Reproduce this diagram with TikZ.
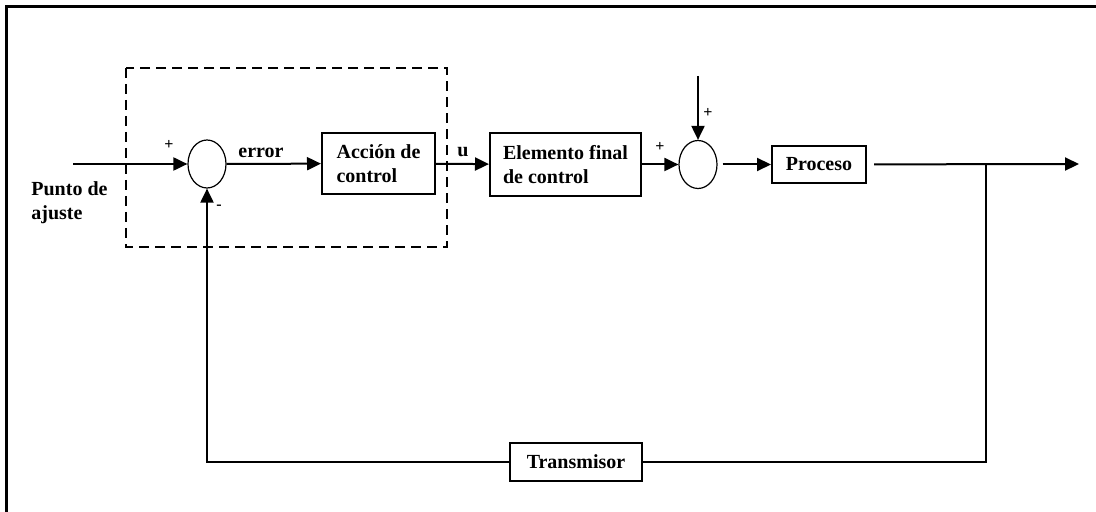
\documentclass[tikz,border=0pt]{standalone}
\usepackage{fontspec}
\setmainfont{Liberation Serif}
\usetikzlibrary{arrows.meta,shapes.geometric,positioning}
\tikzset{
    % Rectangular block of the loop
    blockbox/.style={
        draw, line width=1pt, align=left,
        font=\bfseries, inner sep=2pt
    },
    % Summing junction
    sumnode/.style={
        ellipse, draw, line width=0.6pt,
        minimum width=19pt, minimum height=24pt, inner sep=0pt
    },
    % Signal line with arrow
    flow/.style={line width=1pt, -{Triangle[length=7pt,width=6.5pt]}},
    signal/.style={line width=1pt},
    % Small signs and labels
    signlabel/.style={font=\footnotesize\bfseries, inner sep=0pt},
    siglabel/.style={font=\bfseries, inner sep=0pt},
}
\begin{document}
\begin{tikzpicture}[x=0.5pt,y=-0.5pt]
      \useasboundingbox (0,0) rectangle (1096,512);
      \draw[line width=1.5pt] (1096,6.5) -- (6.5,6.5) -- (6.5,512);
      % controller (dashed)
      \draw[line width=0.8pt,dash pattern=on 5pt off 3pt] (126,68) rectangle (447,247);
      \node[sumnode] (sumA) at (207,164) {};
      \node[blockbox,minimum width=56.5pt,minimum height=30.5pt] (ctrl) at (378.5,163.5) {Acción de\\control};
      \node[blockbox,minimum width=75.5pt,minimum height=31.5pt] (efc) at (565.5,164.5) {Elemento final\\de control};
      \node[sumnode] (sumB) at (698,164.5) {};
      \node[blockbox,minimum width=47pt,minimum height=18.5pt] (proc) at (819,164.5) {Proceso};
      \node[blockbox,minimum width=66pt,minimum height=19pt] (trans) at (576,462) {Transmisor};
      \coordinate (inp) at (73,164);
      \coordinate (dist) at (698,76);
      \coordinate (out) at (1079,164);
      \coordinate (branch) at (986,164);
      % forward path
      \draw[flow] (inp) -- (sumA);
      \draw[flow] (sumA) -- (ctrl);
      \draw[flow] (ctrl) -- (efc);
      \draw[flow] (efc) -- (sumB);
      \draw[flow] (dist) -- (sumB);
      \draw[flow,shorten <=2.5pt] (sumB) -- (proc);
      \draw[flow,shorten <=3.5pt] (proc) -- (out);
      % feedback path
      \draw[signal] (branch) |- (trans);
      \draw[flow] (trans) -| (sumA);
      % labels
      \node[siglabel,anchor=north west,align=left] (sp) at (31,181) {Punto de\\ajuste};
      \node[siglabel] (err) at (261,153) {error};
      \node[siglabel] (uu) at (463,152) {u};
      \node[signlabel] (pA) at (169,145) {+};
      \node[signlabel] (mA) at (219,207) {-};
      \node[signlabel] (pB) at (660,147) {+};
      \node[signlabel] (pC) at (708,113) {+};
    \end{tikzpicture}
\end{document}
